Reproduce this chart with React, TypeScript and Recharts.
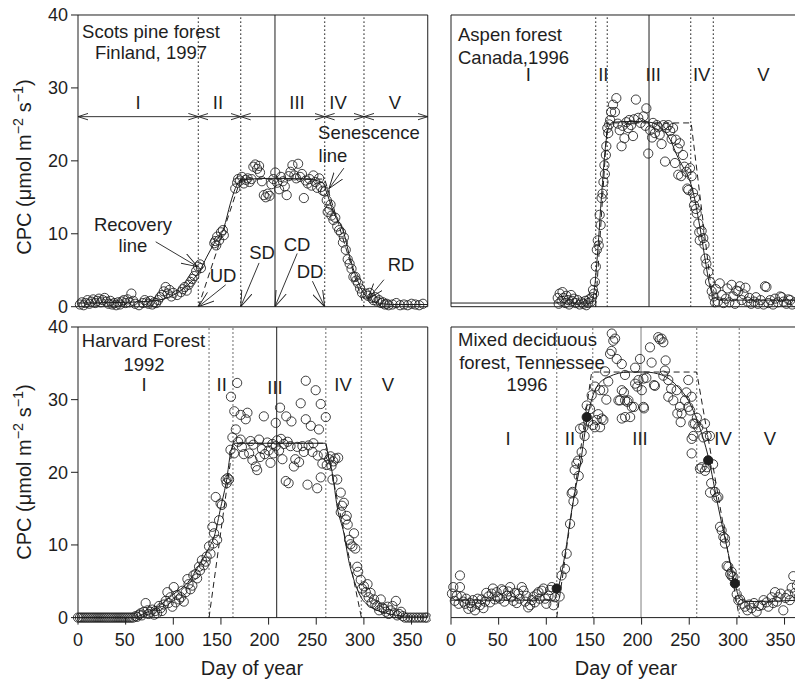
import React from "react";
import { ComposedChart, Scatter, Line, XAxis, YAxis, ReferenceLine } from "recharts";

// [day of year, CPC]
const scotsPine = [
  [2,0.3],[4,0.6],[6,0.2],[8,0.5],[10,0.9],[12,0.4],[14,0.7],[16,1.0],[18,0.5],[20,0.8],[22,1.1],[24,0.6],[26,0.9],[28,1.2],[30,0.7],[32,0.4],[34,0.8],[36,0.3],[38,0.5],[40,0.2],[42,0.6],[44,0.3],[46,0.7],[48,0.9],[50,0.5],[52,1.0],[54,0.6],[56,1.8],[58,0.8],[60,0.4],
  [64,0.2],[68,0.5],[70,0.9],[72,0.6],[74,0.4],[76,0.8],[78,0.3],[80,0.6],[82,0.5],[84,0.9],[86,1.3],[88,1.6],[90,2.1],[92,2.7],[94,1.8],[96,2.3],[98,1.4],[100,1.9],
  [104,1.6],[108,2.0],[110,2.4],[112,2.7],[114,2.2],[116,3.0],[118,3.4],[120,3.8],[122,4.2],[124,4.9],[126,5.5],[128,5.8],[129,5.3],
  [143,8.7],[144,9.0],[145,8.4],[146,9.6],[148,9.1],[150,10.2],[152,10.5],[153,9.8],
  [165,16.2],[167,17.0],[168,17.5],[170,17.3],[172,17.8],[174,16.9],[176,17.4],[178,17.6],[180,17.1],[182,17.5],[184,19.2],[186,19.5],[188,18.9],[190,19.3],[191,18.4],[193,17.2],
  [195,15.3],[197,15.0],[199,15.5],[201,15.2],[203,16.8],[205,17.5],[207,18.4],[209,17.0],[211,16.1],[213,17.8],[215,17.2],[217,16.5],[219,15.3],[221,17.9],[223,18.5],[225,19.4],[227,18.0],[229,17.6],[231,19.6],[233,17.8],[235,18.2],[237,14.9],[239,17.3],[241,16.9],[243,17.5],[245,16.6],[247,18.0],[249,17.1],[251,16.3],[253,17.6],[255,16.4],[257,15.9],
  [259,15.8],[261,14.6],[262,13.0],[264,13.3],[265,14.0],[266,12.5],[268,11.9],[270,12.2],[272,11.0],[274,10.5],[276,10.2],[278,8.8],[279,9.5],[281,7.8],[283,6.5],[285,5.9],[287,5.2],[289,4.1],[291,4.1],[292,3.6],[294,3.2],[296,2.5],[298,1.9],
  [302,1.8],[304,1.5],[306,1.9],[308,1.2],[310,0.9],[312,1.3],[314,0.7],[316,0.9],[318,0.5],[320,0.6],[322,0.3],[324,0.4],[326,0.2],[330,0.3],[334,0.5],[338,0.2],[342,0.3],[346,0.2],[350,0.4],[354,0.3],[358,0.2],[362,0.4],
];
const scotsFit = [
  [0,0.5],[50,0.6],[80,0.8],[100,1.6],[110,2.4],[120,3.6],[128,5.0],[135,6.8],[143,8.7],[153,10.8],[160,14.2],[165,16.2],[170,17.3],[180,17.5],[206,17.6],[240,17.5],[257,17.0],[260,16.0],[268,13.0],[279,10.1],[286,6.4],[293,3.7],[300,1.8],[306,0.9],[315,0.5],[330,0.3],[367,0.3],
];
const scotsModel = [[126.3,0],[170.7,17.5],[258.8,17.5],[300.1,0]];
const scotsPhases = [126.3, 170.7, 258.8, 300.1];
const scotsCenter = 206.7;
const scotsPhaseArrowY = 26.06;
const scotsPhaseSpans = [[0,126.3],[126.3,170.7],[170.7,258.8],[258.8,300.1],[300.1,367]];
// pointers from labels (Recovery line, Senescence line, UD, SD, CD, DD, RD)
const scotsPointers = [
  [81.5,8.9,125.3,5.5],[279,19.0,263.4,16.2],[155,3.0,126.3,0],[190,6.0,170.7,0],[230,7.3,206.7,0],[246,3.5,258.8,0],[321,3.7,304,1.0],
];

const aspen = [
  [112,1.2],[113,0.4],[114,1.8],[116,0.8],[117,2.0],[118,1.2],[120,0.5],[121,1.5],[123,0.9],[124,0.3],[126,1.6],[127,0.8],[129,1.1],[131,0.5],[133,0.9],[135,0.3],[137,0.6],[139,0.4],[141,0.8],[142,0.2],[144,0.5],[145,1.0],[147,0.7],[148,1.3],[149,2.3],[150,1.8],
  [151,3.4],[152,5.5],[153,7.8],[154,9.1],[155,8.4],[156,12.6],[157,11.2],[158,14.9],[159,15.5],[160,17.1],[161,19.4],[161.5,18.2],[162.5,20.8],[163,22],[164,24.5],[165,23.8],[166,25.0],[167,25.6],[168,26.7],[170,27.7],[172,26.7],[173.5,28.6],[175,25.1],[177,24.2],[179,22],[180,24.8],[182,23.1],[184,25.3],[186,24.5],[187,25.6],[189,24.9],[191,23.4],[192,25.7],[194,28.4],[196.5,25.9],[199,25.2],[202,26.1],[204,24.8],[205,27.2],
  [207,21],[209,24.2],[211,23.2],[212,25.2],[214,23.8],[216,24.9],[217.6,24.6],[219,23.6],[221,22.3],[223,24.9],[224.6,19.9],[226,24.5],[228,24.9],[230,24.1],[231.5,23],[233,24.5],[235,19.7],[236,22.9],[238,21.7],[238.5,18.1],[240,22.4],[241.5,17.9],[243.5,20.8],[245,19.2],[247,18.5],[248,16.2],[249,16.0],[250.8,19],[252.5,17.9],[254,15.6],[255,13.9],[256,14.9],[257,13.4],[257.8,12.8],[259.5,11.4],[260.5,10.2],[261,9.1],[263,10.4],[264.7,9.4],[266,8.5],[267,6.6],[268,5.9],[270,4.8],[271.8,3.4],[273.6,2.1],[275.5,1.4],
  [277,0.6],[278,2.4],[280,0.7],[282,3.2],[284,1.6],[286,0.5],[288.5,1.1],[290,2.5],[292,0.6],[294.5,3.0],[296,1.4],[298,0.4],[299.5,2.2],[301.5,2.1],[303,2.8],[305,0.9],[307,1.7],[309,2.6],[311,0.7],[313,1.2],[315,0.4],[318,0.7],[320,1.3],[322,0.4],[325,0.9],[328,0.3],[329.5,2.8],[331,2.7],[333,0.5],[335,0.9],[338,0.3],[340,1.1],[343,0.6],[345.5,1.4],[347,1.3],[349,0.7],[352,0.4],[354,1.0],[356,0.9],[358,0.3],[361,0.6],
];
const aspenFit = [
  [0,0.5],[145,0.5],[148,0.8],[151,3.0],[153,6.0],[155,9.5],[157,13.5],[159,17.0],[161,20.5],[163,23.0],[166,24.8],[170,25.3],[190,25.4],[208,25.3],[220,24.6],[230,22.9],[238,20.5],[245,18.8],[250,17.5],[255,15.2],[259,12.5],[263,9.5],[266,7.0],[269,4.6],[272,2.6],[276,1.4],[282,0.9],[367,0.9],
];
const aspenModel = [[151.8,0],[164,25.2],[252,25.2],[275.3,0]];
const aspenPhases = [151.8, 164, 251.5, 275.3];
const aspenCenter = 207.8;

const harvard = [
  [0,0],[2,0],[4,0],[6,0],[8,0],[10,0],[12,0],[14,0],[16,0],[18,0],[20,0],[22,0],[24,0],[26,0],[28,0],[30,0],[32,0],[34,0],[36,0],[38,0],[40,0],[42,0],[44,0],[46,0],[48,0],[50,0],[52,0],[54,0],[56,0],[58,0],
  [60.5,0.2],[62,0.1],[64,0.4],[65.8,0.6],[67,0.3],[69,0.8],[71,2.0],[73,1.0],[74,0.5],[76,0.8],[78,1.1],[80,0.4],[81,0.9],[83,0.6],[85,1.6],[86.8,1.3],[88,0.9],[90,1.8],[92,2.3],[93.8,3.5],[95,2.0],[97,2.8],[99,1.5],[100.5,4.2],[102.5,2.1],[104,3.1],[106,2.5],[108,2.8],[109.5,3.7],[111,2.2],[113,3.5],[114.8,5.3],[116,4.6],[118,3.9],[120,4.4],[121,5.8],[123.5,6.0],[125,5.4],[127,7.0],[128,6.5],[130,7.9],[132,7.2],[134,7.7],[135,8.4],[137.5,9.8],[139,8.8],
  [141,12.5],[142,10.2],[142.8,11.6],[144.5,16.6],[146,10.7],[148,13.4],[149.6,15.7],[151,15.5],[155,19],[156,18.5],[157,19.2],[158.5,19],[160,23.1],[160.5,30.4],[162,24.8],[163.7,22.6],[164,28.4],[165.6,25.9],[167,32.3],[168,24.2],[170.7,27.9],[170.7,24.5],[172,23.5],[174,22.5],[176,27.3],[177.8,28.2],[179.6,22.6],[181,24.3],[183,21.7],[184,23.8],[186.5,20.8],[188,20.3],[190,24.5],[191,22.1],[193,23.2],[195,27.7],[196,22.5],[198.7,24.1],[200,23.0],[202,21.3],[204,23.9],[205,22.6],[207.5,23.6],[207.5,26.8],[209,24.4],
  [211,23.0],[212,28.9],[213,24.6],[214.5,21.8],[216,23.9],[218,18.8],[218.5,27.7],[220,24.2],[221,18.5],[223,23.6],[224,27.0],[226.5,20.8],[228,21.8],[230,23.5],[232,21.4],[233.7,29.5],[235.5,23.6],[237,22.8],[239,32.6],[239,27.3],[240.8,18.3],[242,23.7],[244.3,26.4],[246,22.8],[247,24.0],[249.4,31.3],[251,17.8],[251.5,22.3],[252.8,25.9],[254.7,29.4],[254.7,19.3],[256.4,21.2],[258,22.5],[260,27.6],[261,21.0],[263.5,21.8],[265,22.2],[266,20.9],[267,19.0],[268,21.5],[270,21.9],[272,19.0],[273,22.0],
  [275.7,17.2],[275.7,14.5],[277,15.4],[279,15.8],[281,13.5],[282,14.0],[283,12.8],[284.4,10.7],[286,10.1],[288,9.8],[289.6,11.6],[291,9.5],[293,7.0],[294,6.3],[296.7,5.2],[298,4.0],[300,4.3],[302,3.5],[303.8,4.6],[305,2.8],[307,3.4],[308,2.0],[310.6,2.5],[312,1.8],[314,1.6],[316,1.0],[317.7,2.5],[319,1.4],[321,1.2],[323,0.8],[325,1.5],[326,0.5],[328,1.0],[330,1.6],[332,0.6],[333.6,2.3],[335,0.3],[337,0.5],[339,0.8],[341,0.2],
  [343,0],[346,0],[349,0],[352,0],[355,0],[358,0],[361,0],[364,0],[366,0],
];
const harvardFit = [
  [0,0],[58,0],[70,0.6],[85,1.6],[100,3.2],[115,4.8],[127,7.2],[137,9.5],[143,11.2],[150,15.3],[156,19],[160,22.6],[164,24],[260,24],[262,22.6],[267,19.8],[272,15.2],[279,11.6],[284,7.9],[290,5.0],[297,2.8],[307,1.5],[324,0.6],[345,0.2],[367,0.2],
];
const harvardModel = [[137.5,0],[162.6,24],[260,24],[297.4,0]];
const harvardPhases = [137.5, 162.6, 260, 297.4];
const harvardCenter = 208.5;

const tennessee = [
  [1,3.3],[2.4,4.2],[4,2.3],[6,3.0],[8,1.9],[9.4,5.8],[9.4,4.2],[11,2.9],[13,2.2],[14.7,1.9],[16,2.6],[18.2,1.2],[20,2.0],[21.7,1.5],[23,2.4],[25.2,1.0],[27,1.9],[28,2.6],[30.4,1.7],[32,2.5],[34,1.3],[35.7,2.2],[37,3.4],[39.2,2.9],[41,2.1],[42.7,3.3],[44,4.0],[46,2.5],[47.9,3.5],[49,2.8],[51.4,2.6],[53,3.9],[55,3.7],[56,2.2],[58.5,3.0],[60,3.6],[62,4.2],[63,2.8],[65.5,2.3],[67,3.4],[69,2.0],[70.8,3.3],[72,2.6],[74.3,4.2],[76,3.7],[77.8,2.2],[79,3.0],[81,1.4],[83,1.7],[85,2.4],[86.6,2.9],[88,2.1],[90,3.2],[91.8,3.5],[93,2.6],[95.3,3.7],[97,4.0],[98.8,2.6],[100,1.9],[102.3,3.0],[104,3.8],[105.8,4.2],[107.5,1.7],[109,2.8],
  [114,2.9],[116,5.8],[119.6,6.7],[121.4,8.8],[124.9,12.9],[126.6,17.1],[127.6,17.3],[128.5,16.0],[129.8,20.3],[131.6,21.2],[133.3,21.6],[134,19.5],[135.4,26.0],[137.1,22.8],[138.9,26.2],[140.2,25.0],[142.4,29.2],[144,27.0],[145.9,28.7],[147.6,30.6],[149,26.5],[151,26.2],[151.2,31.8],[152.9,27.2],[154.5,28.0],[156.4,26.2],[156.4,31.3],[158.1,27.4],[159.9,27.2],[159.9,31.3],[161.7,33.9],[163,30.0],[165,32.5],[166.9,36.3],[168.5,36.7],[168.7,39.1],[170.3,38.1],[172.2,38.4],[173.9,35.6],[175.7,29.9],[177.4,29.9],[179.2,34.9],[179.2,31.3],[179.2,27.4],[181.5,31.0],[182.6,33.4],[182.7,29.9],[182.7,27.6],[185,29.7],[186.2,29.9],[188,27.6],[189.7,29.0],[192,29.0],[193.2,32.2],[193.2,34.4],[195.5,31.8],[196.7,32.7],[198.3,35.6],[200.2,31.3],[202,29.0],[202,32.9],[202.5,28.8],[205,33.0],[208.8,37.2],[210.5,35.1],[213,32.0],[214,31.9],[217.5,38.6],[219,38.3],[221,38.4],[222.8,37.9],[222.8,33.3],[224.5,34.0],[225.2,35.4],[228,32.7],[228,30.4],[231,31.5],[233.3,29.9],[236.8,31.3],[237.5,28.1],[240.3,29.0],[241,26.9],[242,28.1],[245.6,29.9],[247,31.0],[249,32.7],[249,29.0],[251,28.5],[252.5,30.4],[252.5,24.6],[252.5,22.6],[254.3,26.7],[254.3,25.0],[256,26.7],[258,27.5],[259.5,26.2],
  [261.2,20.5],[263,20.7],[264.8,24.8],[266.5,26.7],[266.5,20.2],[268.3,25.0],[268.3,20.7],[271.7,25.0],[271.8,17.2],[273,18.5],[275,21.1],[277,17.3],[278.8,16.5],[280.5,16.6],[282.3,12.5],[284,12.0],[285.8,11.1],[287.5,10.2],[287.5,10.9],[289.3,7.1],[291,7.0],[293,6.0],[294.5,6.3],[294.5,5.7],[296.3,5.6],[299.8,3.2],[301.5,2.4],[303.3,2.5],[306,1.9],[308.5,1.5],[311,1.0],[313,1.8],[315.5,1.3],[318,2.0],[320.7,0.8],[323,1.6],[326,1.7],[328,2.4],[331.2,2.1],[333,1.5],[336.5,2.8],[338,2.0],[340,3.5],[342,2.2],[343.5,2.8],[346,3.3],[348.7,1.0],[351,2.7],[354,3.2],[355.5,2.4],[357.5,4.1],[359.2,5.7],[361,3.4],[363,4.4],[365,2.9],
];
const tennesseeMarked = [[110.9,4.0],[142.4,27.6],[269.9,21.65],[297.9,4.7]];
const tennesseeFit = [
  [0,2.4],[108,2.4],[111,3.2],[114.4,5.1],[120,9.0],[125,13.4],[130,17.3],[135.4,20.9],[142.4,27.0],[147.6,30.0],[153,31.8],[165,33.1],[186,33.8],[203.5,33.8],[221,33.4],[238.5,31.7],[249,29.9],[259.5,26.7],[270,22.1],[280.5,15.2],[291,8.8],[298,4.7],[303,2.6],[310,2.2],[367,2.4],
];
const tennesseeModel = [[110.9,0],[147.6,33.8],[257.8,33.8],[302.5,0]];
const tennesseePhases = [110.9, 148.7, 257.8, 302.5];
const tennesseeCenter = 199.4;

const dayTicks = [0, 50, 100, 150, 200, 250, 300, 350];
const cpcTicks = [0, 10, 20, 30, 40];

const FONT = '"Liberation Sans", Arial, Helvetica, sans-serif';
const INK = "#1e1e1e";
const X_MAX = 367;
const PLOT_W = X_MAX * 0.953;
const Y_AXIS_W = 50;
const TOP_PAD = 11;

const toPts = (a: number[][]) => a.map(([d, v]) => ({ d, v }));

const Ring = (p: any) => <circle cx={p.cx} cy={p.cy} r={4.6} fill="none" stroke={INK} strokeWidth={0.85} />;
const Blob = (p: any) => <circle cx={p.cx} cy={p.cy} r={4.6} fill={INK} stroke={INK} />;

// the printed day labels sit a little left of their ticks
const DayTick = (p: any) => {
  const val = p.payload.value;
  const shift = val >= 100 ? -4 : val > 0 ? -1 : 0;
  return (
    <text x={p.x + shift} y={p.y} dy="0.71em" textAnchor="middle" fontSize={18} fill={INK} fontFamily={FONT}>
      {val}
    </text>
  );
};

const arrowShape = (both: boolean, id: string) => (p: any) => (
  <line x1={p.x1} y1={p.y1} x2={p.x2} y2={p.y2} stroke={INK} strokeWidth={0.9}
    markerEnd={`url(#${id})`} markerStart={both ? `url(#${id})` : undefined} />
);

interface PanelProps {
  left: number; top: number; height: number;
  pts: number[][]; fit: number[][]; model: number[][];
  phases: number[]; center: number; centerColor?: string;
  marked?: number[][];
  xLabels?: boolean; yLabels?: boolean; topTicks?: boolean;
  spans?: number[][]; spanY?: number; pointers?: number[][];
}

function Panel(props: PanelProps) {
  const { left, top, height, xLabels, yLabels, topTicks } = props;
  const bottomH = xLabels ? 40 : 12;
  const W = Y_AXIS_W + PLOT_W + 4;
  const H = TOP_PAD + height + bottomH;
  const tickStyle = { fontSize: 18, fill: INK, fontFamily: FONT };
  return (
    <div style={{ position: "absolute", left: left - Y_AXIS_W, top: top - TOP_PAD }}>
      <ComposedChart width={W} height={H} margin={{ top: 10, right: 4, bottom: 0, left: 0 }}>
        <XAxis type="number" dataKey="d" domain={[0, X_MAX]} ticks={dayTicks} interval={0}
          height={bottomH} tick={xLabels ? <DayTick /> : false} tickSize={7} tickMargin={9}
          stroke={INK} />
        <XAxis xAxisId="top" orientation="top" type="number" dataKey="d" domain={[0, X_MAX]} ticks={dayTicks}
          allowDataOverflow interval={0} height={1} tick={false} tickLine={!!topTicks} tickSize={6} stroke={INK} />
        <YAxis type="number" dataKey="v" domain={[0, 40]} ticks={cpcTicks} interval={0}
          width={Y_AXIS_W} tick={yLabels ? tickStyle : false} tickSize={7} tickMargin={3} stroke={INK} />
        <ReferenceLine x={X_MAX} stroke={INK} />
        {props.phases.map((d) => (
          <ReferenceLine key={`ph${d}`} x={d} stroke={INK} strokeWidth={1.3} strokeDasharray="1.2 2.8" />
        ))}
        <ReferenceLine x={props.center} stroke={props.centerColor || INK} strokeWidth={1} />
        {(props.spans || []).map(([a, b]) => (
          <ReferenceLine key={`sp${a}`} segment={[{ x: a, y: props.spanY }, { x: b, y: props.spanY }]}
            shape={arrowShape(true, "headSmall")} />
        ))}
        {(props.pointers || []).map(([x1, y1, x2, y2]) => (
          <ReferenceLine key={`pt${x1}`} segment={[{ x: x1, y: y1 }, { x: x2, y: y2 }]}
            shape={arrowShape(false, "headFan")} />
        ))}
        <Line data={toPts(props.model)} dataKey="v" type="linear" stroke={INK} strokeWidth={1}
          strokeDasharray="6 4" dot={false} activeDot={false} isAnimationActive={false} />
        <Line data={toPts(props.fit)} dataKey="v" type="monotone" stroke={INK} strokeWidth={1}
          dot={false} activeDot={false} isAnimationActive={false} />
        <Scatter data={toPts(props.pts)} dataKey="v" shape={Ring} isAnimationActive={false} />
        {props.marked && (
          <Scatter data={toPts(props.marked)} dataKey="v" shape={Blob} isAnimationActive={false} />
        )}
      </ComposedChart>
    </div>
  );
}

function Txt({ x, y, children, size = 18.5, align = "middle" }: any) {
  return (
    <div style={{
      position: "absolute", left: x, top: y - 0.8465 * size, fontSize: size, lineHeight: `${size}px`,
      whiteSpace: "nowrap", fontFamily: FONT, color: INK,
      transform: align === "middle" ? "translateX(-50%)" : undefined,
    }}>{children}</div>
  );
}

const sup: React.CSSProperties = { fontSize: "0.72em", position: "relative", top: "-0.55em" };

function CpcLabel({ cx, cy }: { cx: number; cy: number }) {
  return (
    <div style={{
      position: "absolute", left: cx, top: cy, transform: "translate(-50%,-50%) rotate(-90deg)",
      fontSize: 20, lineHeight: "20px", whiteSpace: "nowrap", fontFamily: FONT, color: INK,
    }}>
      CPC (μmol m<span style={sup}>−2</span> s<span style={sup}>−1</span>)
    </div>
  );
}

export default function App() {
  return (
    <div style={{ position: "absolute", left: 0, top: 0, width: 795, height: 682, overflow: "hidden", background: "#fff" }}>
      <svg width={0} height={0} style={{ position: "absolute" }}>
        <defs>
          <marker id="headSmall" viewBox="0 0 10 8" refX={10} refY={4} markerWidth={10} markerHeight={8}
            markerUnits="userSpaceOnUse" orient="auto-start-reverse">
            <path d="M0,0.8 L10,4 L0,7.2" fill="none" stroke={INK} strokeWidth={0.9} />
          </marker>
          <marker id="headFan" viewBox="0 0 16 12" refX={16} refY={6} markerWidth={16} markerHeight={12}
            markerUnits="userSpaceOnUse" orient="auto">
            <path d="M0,0.5 L16,6 L0,11.5" fill="none" stroke={INK} strokeWidth={0.9} />
          </marker>
        </defs>
      </svg>

      <Panel left={77.5} top={15} height={291.7} pts={scotsPine} fit={scotsFit} model={scotsModel}
        phases={scotsPhases} center={scotsCenter} yLabels spans={scotsPhaseSpans} spanY={scotsPhaseArrowY}
        pointers={scotsPointers} />
      <Panel left={450.5} top={15} height={291.7} pts={aspen} fit={aspenFit} model={aspenModel}
        phases={aspenPhases} center={aspenCenter} />
      <Panel left={77.5} top={326.7} height={290.6} pts={harvard} fit={harvardFit} model={harvardModel}
        phases={harvardPhases} center={harvardCenter} yLabels xLabels topTicks />
      <Panel left={450.5} top={326.7} height={290.6} pts={tennessee} fit={tennesseeFit} model={tennesseeModel}
        phases={tennesseePhases} center={tennesseeCenter} centerColor="#808080" marked={tennesseeMarked}
        xLabels topTicks />

      {/* top-left annotations */}
      <Txt x={151} y={38.5}>Scots pine forest</Txt>
      <Txt x={151} y={60}>Finland, 1997</Txt>
      <Txt x={138} y={110}>I</Txt>
      <Txt x={218} y={110}>II</Txt>
      <Txt x={297} y={110}>III</Txt>
      <Txt x={338} y={110}>IV</Txt>
      <Txt x={395} y={110}>V</Txt>
      <Txt x={369} y={140}>Senescence</Txt>
      <Txt x={333} y={163}>line</Txt>
      <Txt x={133} y={232}>Recovery</Txt>
      <Txt x={133} y={253}>line</Txt>
      <Txt x={223} y={283}>UD</Txt>
      <Txt x={262} y={260}>SD</Txt>
      <Txt x={297} y={252}>CD</Txt>
      <Txt x={310} y={279}>DD</Txt>
      <Txt x={401} y={272}>RD</Txt>

      {/* top-right */}
      <Txt x={458} y={42} align="start">Aspen forest</Txt>
      <Txt x={458} y={65} align="start">Canada,1996</Txt>
      <Txt x={528.3} y={82}>I</Txt>
      <Txt x={603.3} y={82}>II</Txt>
      <Txt x={653.3} y={82}>III</Txt>
      <Txt x={701.7} y={82}>IV</Txt>
      <Txt x={763.3} y={82}>V</Txt>

      {/* bottom-left */}
      <Txt x={143.5} y={348}>Harvard Forest</Txt>
      <Txt x={144} y={372}>1992</Txt>
      <Txt x={144} y={392}>I</Txt>
      <Txt x={221.7} y={392}>II</Txt>
      <Txt x={275} y={395}>III</Txt>
      <Txt x={343} y={392}>IV</Txt>
      <Txt x={388} y={392}>V</Txt>

      {/* bottom-right */}
      <Txt x={527.5} y={347}>Mixed deciduous</Txt>
      <Txt x={532} y={370}>forest, Tennessee</Txt>
      <Txt x={527} y={392}>1996</Txt>
      <Txt x={508} y={446}>I</Txt>
      <Txt x={570} y={446}>II</Txt>
      <Txt x={640} y={446}>III</Txt>
      <Txt x={723} y={446}>IV</Txt>
      <Txt x={770} y={446}>V</Txt>

      <Txt x={252} y={675} size={20}>Day of year</Txt>
      <Txt x={626} y={675} size={20}>Day of year</Txt>
      <CpcLabel cx={25} cy={167} />
      <CpcLabel cx={25} cy={472} />
    </div>
  );
}
